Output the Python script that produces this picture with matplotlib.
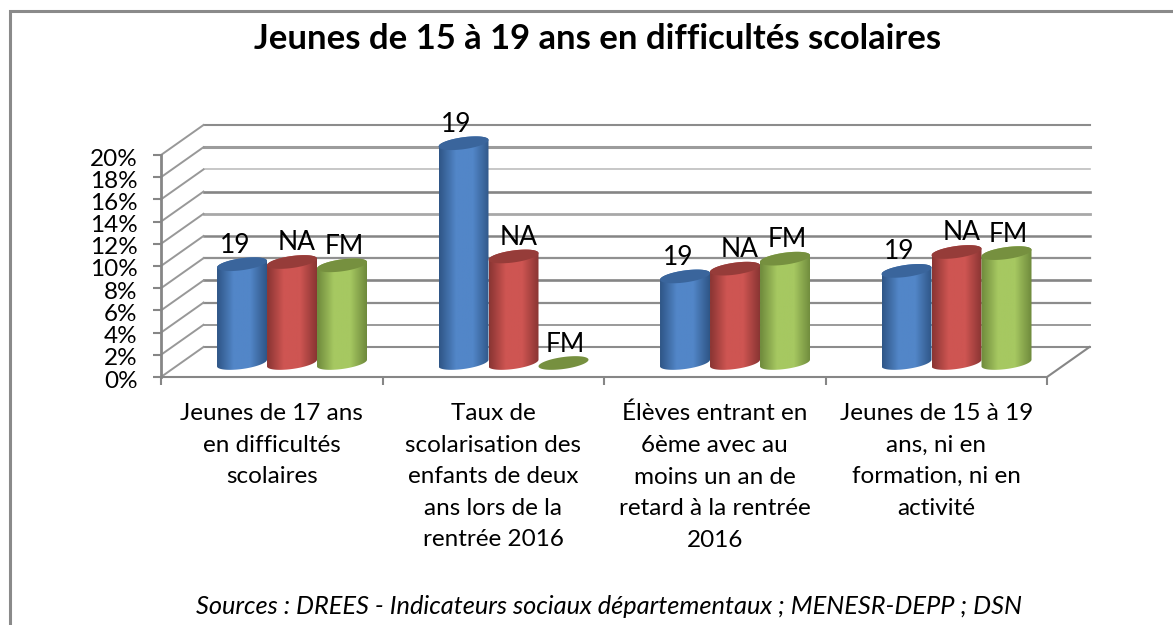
import matplotlib
matplotlib.use("Agg")
import matplotlib.pyplot as plt
import numpy as np
from matplotlib.colors import LinearSegmentedColormap
from matplotlib.patches import Polygon
from matplotlib.transforms import ScaledTranslation

plt.rcParams['font.family'] = ['Lato', 'DejaVu Sans']

### DATA
categories = ["Jeunes de 17 ans\nen difficultés\nscolaires",
              "Taux de\nscolarisation des\nenfants de deux\nans lors de la\nrentrée 2016",
              "Élèves entrant en\n6ème avec au\nmoins un an de\nretard à la rentrée\n2016",
              "Jeunes de 15 à 19\nans, ni en\nformation, ni en\nactivité"]
series_names = ["19", "NA", "FM"]
val_19 = [8.9, 19.8, 7.8, 8.3]
val_na = [9.1, 9.6, 8.5, 10.0]
val_fm = [8.8, 0.0, 9.4, 9.9]
y_ticks = [0, 2, 4, 6, 8, 10, 12, 14, 16, 18, 20]
###

W, H = 1173, 625
# front plane of the 3D box, in pixels
LEFT, RIGHT, BOTTOM, TOP = 161, 1047, 377, 155
PX_X = (RIGHT - LEFT) / 4
PX_Y = (BOTTOM - TOP) / 20
DX = 42.5 / PX_X      # depth of the box in data units
DY = 30 / PX_Y
BAR_W = 50 / PX_X
BAR_OFF = 56 / PX_X
BASE = 14 / PX_Y      # bars stand in the middle of the floor
ELL_B = 6 / PX_Y

colors = [("#2f5687", "#5286c8", "#3a659c"),
          ("#8a3533", "#ce5552", "#963c39"),
          ("#6f8a3c", "#a6c861", "#76903f")]
label_dx = [-7, 5, 2]

fig = plt.figure(figsize=(W / 100, H / 100), dpi=100)
# chart frame, only top and left are visible in the crop
frame = fig.add_axes([0, 0, 1, 1])
frame.set_xlim(0, W)
frame.set_ylim(H, 0)
frame.axis("off")
frame.plot([9.5, 9.5, W], [H, 10.5, 10.5], color="#8a8a8a", lw=2.2, solid_joinstyle="miter")

ax = fig.add_axes([LEFT / W, 1 - BOTTOM / H, (RIGHT - LEFT) / W, (BOTTOM - TOP) / H])
ax.patch.set_alpha(0)
for s in ax.spines.values():
    s.set_visible(False)
ax.set_xlim(0, 4)
ax.set_ylim(0, 20)

grey = "#868686"
grid_lw = [1.5, 1.4, 1.6, 1.9, 1.6, 1.8, 2.0, 1.9, 1.2, 2.2, 1.5]
grid_col = ["#8c8c8c", "#9a9a9a", "#8c8c8c", "#858585", "#909090", "#858585",
            "#a8a8a8", "#858585", "#bdbdbd", "#9c9c9c", "#8c8c8c"]
for t, lw, c in zip(y_ticks, grid_lw, grid_col):
    # back wall
    ax.plot([DX, 4 + DX], [t + DY, t + DY], color=c, lw=lw, clip_on=False, zorder=1)
    # side wall
    ax.plot([0, DX], [t, t + DY], color="#989898", lw=1.4, clip_on=False, zorder=1)
# floor
ax.plot([0, 4, 4 + DX], [0, 0, DY], color=grey, lw=1.5, clip_on=False, zorder=1.5)
ax.plot([0, 0], [0, 20], color=grey, lw=2, clip_on=False, zorder=1.5)

ax.set_xticks(range(5))
ax.set_xticklabels([])
ax.set_yticks(y_ticks)
ax.set_yticklabels([f"{t}%" for t in y_ticks], fontsize=17.5)
ax.tick_params(axis="y", length=6, width=1.5, color=grey, pad=11)
ax.tick_params(axis="x", length=6, width=1.5, color=grey)
# tick labels sit a little below their ticks
shift = ScaledTranslation(0, -2 / 100, fig.dpi_scale_trans)
for lab in ax.get_yticklabels():
    lab.set_transform(lab.get_transform() + shift)

for i, c in enumerate(categories):
    ax.annotate(c, (i + 0.5, 0), xytext=(0, -26), textcoords="offset pixels", ha="center", va="top",
                fontsize=17.5, linespacing=1.62)

t_par = np.linspace(0, 2 * np.pi, 80)


def ellipse(cx, cy):
    xs = cx + BAR_W / 2 * np.cos(t_par)
    ys = cy + ELL_B * np.sin(t_par) + (xs - cx) * 0.55 * ELL_B / (BAR_W / 2)
    return xs, ys


def cylinder(cx, v, cols, z):
    dark, mid, top = cols
    top_y = BASE + v
    xs1, ys1 = ellipse(cx, top_y)
    if v > 0:
        xs0, ys0 = ellipse(cx, BASE)
        outline = np.column_stack([np.r_[xs0[40:], xs1[:41]], np.r_[ys0[40:], ys1[:41]]])
        cmap = LinearSegmentedColormap.from_list("c", [dark, mid, mid, dark])
        im = ax.imshow(np.linspace(0, 1, 64)[None, :], extent=(cx - BAR_W / 2, cx + BAR_W / 2, 0, top_y + 2),
                       cmap=cmap, aspect="auto", zorder=z)
        im.set_clip_box(fig.bbox)
        im.set_clip_path(Polygon(outline, transform=ax.transData, closed=True))
    ax.fill(xs1, ys1, color=top, lw=0, zorder=z + 0.1, clip_on=False)


for i in range(4):
    for j, vals in enumerate([val_19, val_na, val_fm]):
        cx = i + BAR_OFF + BAR_W * j + BAR_W / 2
        cylinder(cx, vals[i], colors[j], 3 + j + i * 3)
        ax.annotate(series_names[j], (cx, BASE + vals[i]), xytext=(label_dx[j], 19), textcoords="offset pixels",
                    ha="center", va="center", fontsize=19, zorder=30, annotation_clip=False)

ax.set_xlim(0, 4)
ax.set_ylim(0, 20)

fig.text(598 / W, 1 - 39 / H, "Jeunes de 15 à 19 ans en difficultés scolaires", ha="center", va="center",
         fontsize=24.9, fontweight="bold")
fig.text(609 / W, 1 - 606 / H, "Sources : DREES - Indicateurs sociaux départementaux ; MENESR-DEPP ; DSN",
         ha="center", va="center", fontsize=18.3, style="italic")

fig.savefig("out.png", dpi=100)
